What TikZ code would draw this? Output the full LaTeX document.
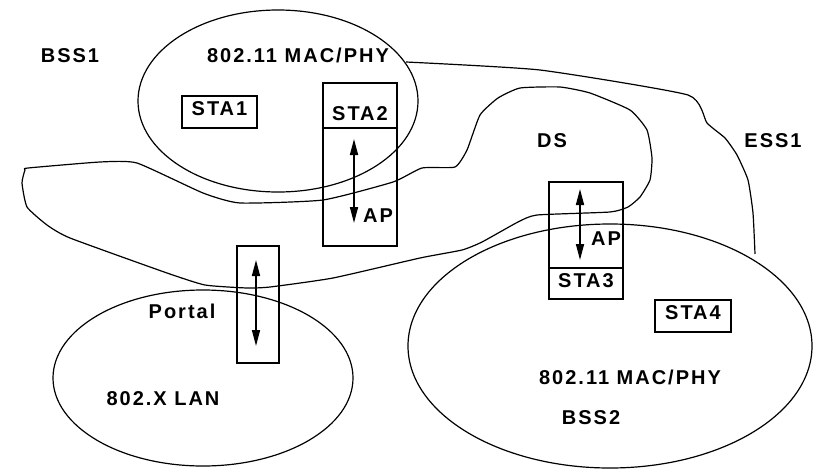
\documentclass[tikz,border=0pt]{standalone}
\usepackage{fontspec}
\setmainfont{Liberation Sans}[LetterSpace=10]
\usetikzlibrary{arrows.meta,positioning,shapes.geometric}

\begin{document}
\begin{tikzpicture}[x=1pt,y=-1pt,font=\fontsize{20}{24}\selectfont\bfseries,
   bss/.style={draw,ellipse,line width=1.2pt,inner sep=0pt},
   box/.style={draw,line width=1.6pt,inner sep=0pt,outer sep=0pt,minimum width=74pt,
               text height=15pt,text depth=8pt},
   lbl/.style={anchor=base,inner sep=0pt},
   curve/.style={line width=1.2pt,line join=round},
   link/.style={{Triangle[length=16pt,width=8pt]}-{Triangle[length=16pt,width=8pt]},line width=1.6pt}]
  \useasboundingbox (0,0) rectangle (814,469);
  % cells
  \node[bss,minimum width=280pt,minimum height=182pt] (bss1) at (278,101) {};
  \node[bss,minimum width=300pt,minimum height=176pt] (lan) at (203,378) {};
  \node[bss,minimum width=404pt,minimum height=244pt] (bss2) at (610,346) {};
  \draw[curve] plot[smooth cycle,tension=0.3] coordinates {
    (28,168) (100,162) (137,163) (203,193) (240,203) (323,200) (393,182)
    (422,168) (455,167) (467,150) (480,115) (498,98) (520,88) (560,87)
    (590,93) (630,110) (647,130) (652,158) (650,180) (640,197) (628,207)
    (610,212) (537,215) (518,222) (482,242) (462,250) (420,258) (333,278)
    (270,287) (247,288) (205,285) (167,273) (70,238) (47,225) (27,207)
    (22,183) (25,170)};
  \draw[curve] plot[smooth,tension=0.3] coordinates {
    (406,62) (540,70) (688,95) (707,123) (725,138) (737,155) (748,180)
    (753,213) (755,254)};
  % stations
  \node[box,minimum width=75pt,minimum height=32pt] (sta1) at (219.5,112) {STA1};
  \node[box,minimum height=45pt] (sta2) at (360,105.5) {};
  \node[box,minimum height=118pt,below=0pt of sta2] (ap1) {};
  \node[lbl] (sta2t) at (360,120) {STA2};
  \node[lbl] (ap1t) at (378,222) {AP};
  \coordinate (a1t) at (354,139);
  \coordinate (a1b) at (354,223);
  \draw[link] (a1t) -- (a1b);
  \node[box,minimum width=42pt,minimum height=117pt] (portal) at (258,304.5) {};
  \coordinate (p1t) at (256,260);
  \coordinate (p1b) at (256,346);
  \draw[link] (p1t) -- (p1b);
  \node[box,minimum height=86pt] (ap2) at (586,225) {};
  \node[box,minimum height=31pt,below=0pt of ap2] (sta3) {STA3};
  \node[lbl] (ap2t) at (606,245) {AP};
  \coordinate (a2t) at (580,189);
  \coordinate (a2b) at (580,260);
  \draw[link] (a2t) -- (a2b);
  \node[box,minimum width=76pt,minimum height=32pt] (sta4) at (693,316) {STA4};
  % labels
  \node[lbl] (bss1t) at (70,62) {BSS1};
  \node[lbl] (mac1) at (298,62) {802.11 MAC/PHY};
  \node[lbl] (dst) at (552,147) {DS};
  \node[lbl] (esst) at (773,147) {ESS1};
  \node[lbl] (portalt) at (182,318) {Portal};
  \node[lbl] (lant) at (163,405) {802.X LAN};
  \node[lbl] (mac2) at (630,384) {802.11 MAC/PHY};
  \node[lbl] (bss2t) at (591,424) {BSS2};
\end{tikzpicture}
\end{document}
